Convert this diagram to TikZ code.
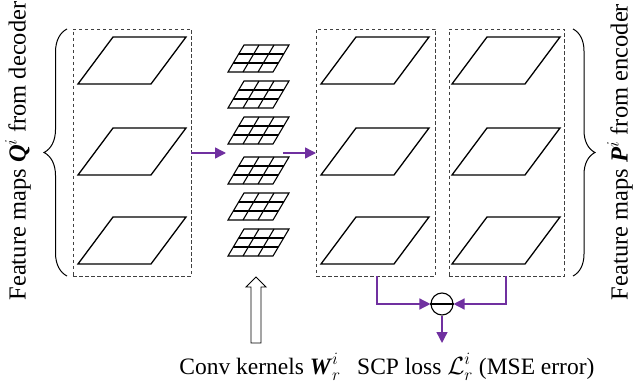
\documentclass[tikz,border=0pt]{standalone}
\usepackage{fontspec}
\setmainfont{Liberation Serif}
\usetikzlibrary{arrows.meta,decorations.pathreplacing}
\definecolor{vio}{HTML}{7030A0}
\newcommand{\bitx}[1]{\textbf{\textit{#1}}}
\begin{document}
\begin{tikzpicture}[x=1pt,y=-1pt,
  fmap/.style={draw=black,line width=1.3pt,line join=miter},
  kmap/.style={draw=black,line width=1.1pt},
  dbox/.style={draw=black!75,dashed,dash pattern=on 3.5pt off 2.5pt,line width=0.9pt},
  varrow/.style={draw=vio,line width=1.4pt,-{Triangle[length=11pt,width=11pt]}},
  lbl/.style={font=\fontsize{24.5}{29}\selectfont,inner sep=0pt},
  blbl/.style={font=\fontsize{23.5}{28}\selectfont,inner sep=0pt},
  brc/.style={decorate,line width=1pt}]
\useasboundingbox (0,0) rectangle (634,387);
% dashed boxes
\node[dbox,minimum width=118pt,minimum height=247pt,inner sep=0pt] (bq) at (132,152.5) {};
\node[dbox,minimum width=119pt,minimum height=247pt,inner sep=0pt] (bm) at (375.5,152.5) {};
\node[dbox,minimum width=115pt,minimum height=247pt,inner sep=0pt] (bp) at (506.5,152.5) {};
% feature maps (parallelograms)
\foreach \x in {78,321,452}{
  \foreach \y in {84,175,264}{
    \draw[fmap] (\x,\y) -- ++(73,0) -- ++(35,-47) -- ++(-73,0) -- cycle;
  }
}
% kernels
\foreach \y in {72,108,144,184,220,256}{
  \begin{scope}[shift={(228,\y)}]
    \draw[kmap] (0,0) -- (45,0) -- (61,-27) -- (16,-27) -- cycle;
    \draw[kmap] (15,0) -- (31,-27);
    \draw[kmap] (30,0) -- (46,-27);
    \draw[kmap] (5.33,-9) -- (50.33,-9);
    \draw[kmap] (10.67,-18) -- (55.67,-18);
  \end{scope}
}
% purple arrows
\coordinate (a1s) at (191,153);
\coordinate (a1e) at (226,153);
\coordinate (a2s) at (283,153);
\coordinate (a2e) at (316,153);
\draw[varrow] (a1s) -- (a1e);
\draw[varrow] (a2s) -- (a2e);
% minus circle
\node[draw=black,circle,line width=1.1pt,minimum size=22pt,inner sep=0pt] (mn) at (442,304) {};
\draw[line width=1.1pt] (mn.west) -- (mn.east);
\coordinate (lm) at (377,276);
\coordinate (lp) at (506,276);
\coordinate (ld) at (442,343);
\draw[varrow] (lm) -- (377,304) -- (mn.west);
\draw[varrow] (lp) -- (506,304) -- (mn.east);
\draw[varrow] (mn.south) -- (ld);
% hollow arrow
\coordinate (ht) at (256,277);
\draw[line width=0.9pt,fill=white] (ht) -- (266,287) -- (261,287) -- (261,343) -- (251,343) -- (251,287) -- (246,287) -- cycle;
% braces
\coordinate (lb1) at (67,276);
\coordinate (lb2) at (67,29);
\coordinate (rb1) at (573,29);
\coordinate (rb2) at (573,276);
\draw[brc,decoration={brace,amplitude=23pt,aspect=0.5}] (lb1) -- (lb2);
\draw[brc,decoration={brace,amplitude=22pt,aspect=0.5}] (rb1) -- (rb2);
% labels
\node[lbl,rotate=90] (tq) at (18,151) {Feature maps \bitx{Q}$^{i}$ from decoder};
\node[lbl,rotate=90] (tp) at (620,152) {Feature maps \bitx{P}$^{i}$ from encoder};
\node[blbl,anchor=base east] (tw) at (341,374) {Conv kernels $\mbox{\bitx{W}}_{r}^{i}$};
\node[blbl,anchor=base west] (tl) at (357,374) {SCP loss $\mathcal{L}_{r}^{i}$ (MSE error)};
\end{tikzpicture}
\end{document}
